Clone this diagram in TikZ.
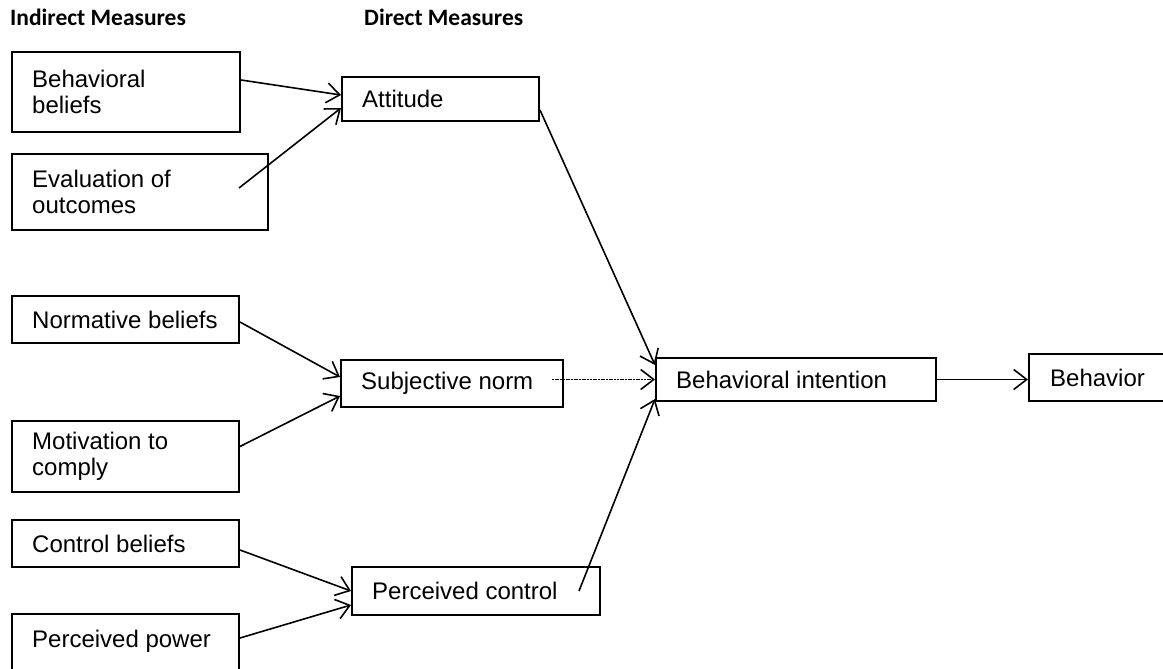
\documentclass[tikz,border=0pt]{standalone}
\usepackage{fontspec}
\setmainfont{Liberation Sans}
\newfontfamily\titlefont{Carlito}
\usetikzlibrary{arrows.meta,calc}
\begin{document}
\begin{tikzpicture}[x=1pt,y=-1pt,
  box/.style={draw, line width=2pt, rectangle, inner sep=0pt},
  lbl/.style={anchor=west, align=left, inner sep=0pt, font=\fontsize{24}{26}\selectfont},
  ttl/.style={anchor=base west, inner sep=0pt, font=\titlefont\bfseries\fontsize{23.5}{26}\selectfont},
  conn/.style={line width=1.6pt, -{Straight Barb[length=13pt,width=20pt]}}]
\fill[white] (0,0) rectangle (1163,669);
\useasboundingbox (0,0) rectangle (1163,669);

% titles
\node[ttl] (t1) at (10,26) {Indirect Measures};
\node[ttl] (t2) at (364,26) {Direct Measures};

% indirect measures
\node[box, minimum width=228pt, minimum height=80pt] (bb) at (126,92) {};
\node[lbl] (bbt) at ([xshift=21pt]bb.west) {Behavioral\\beliefs};
\node[box, minimum width=256pt, minimum height=76pt] (eo) at (140,192) {};
\node[lbl] (eot) at ([xshift=21pt]eo.west) {Evaluation of\\outcomes};
\node[box, minimum width=227pt, minimum height=47pt] (nb) at (125.5,319.5) {};
\node[lbl] (nbt) at ([xshift=21pt]nb.west) {Normative beliefs};
\node[box, minimum width=227pt, minimum height=71pt] (mc) at (125.5,456.5) {};
\node[lbl] (mct) at ([xshift=21pt]mc.west) {Motivation to\\comply};
\node[box, minimum width=227pt, minimum height=47pt] (cb) at (125.5,543.5) {};
\node[lbl] (cbt) at ([xshift=21pt]cb.west) {Control beliefs};
\node[box, minimum width=227pt, minimum height=66pt] (pp) at (125.5,647) {};
\node[lbl] (ppt) at ([xshift=21pt,yshift=6pt]pp.west) {Perceived power};

% direct measures
\node[box, minimum width=197pt, minimum height=44pt] (att) at (440.5,99) {};
\node[lbl] (attt) at ([xshift=21pt]att.west) {Attitude};
\node[box, minimum width=222pt, minimum height=47pt] (sn) at (452,383.5) {};
\node[lbl] (snt) at ([xshift=21pt]sn.west) {Subjective norm};
\node[box, minimum width=248pt, minimum height=48pt] (pc) at (476,591) {};
\node[lbl] (pct) at ([xshift=21pt]pc.west) {Perceived control};

% intention and behavior
\node[box, minimum width=280pt, minimum height=43pt] (bi) at (796,379.5) {};
\node[lbl] (bit) at ([xshift=21pt]bi.west) {Behavioral intention};
\node[box, minimum width=150pt, minimum height=47pt] (beh) at (1104,377.5) {};
\node[lbl] (beht) at ([xshift=22pt]beh.west) {Behavior};

% connectors
\draw[conn] ([yshift=12pt]bb.east) -- ([yshift=4pt]att.west);
\coordinate (eos) at ([xshift=-30pt,yshift=4pt]eo.east);
\draw[conn] (eos) -- ([yshift=-9pt]att.west);
\draw[conn] ([yshift=-11pt]att.east) -- ([yshift=-8pt]bi.north west);

\draw[conn] ([yshift=-2.5pt]nb.east) -- ([yshift=6.5pt]sn.west);
\draw[conn] ([yshift=10pt]mc.east) -- ([yshift=-12.5pt]sn.west);
\coordinate (sns) at ([xshift=-12pt]sn.east |- bi.west);
\draw[conn, dash pattern=on 2pt off 0.7pt] (sns) -- (bi.west);

\draw[conn] ([yshift=-6.5pt]cb.east) -- (pc.west);
\coordinate (pps) at ($(pp.east |- ppt.west)+(0,-3)$);
\draw[conn] (pps) -- ([yshift=-14pt]pc.west);
\coordinate (pcs) at ([xshift=-22pt]pc.east);
\draw[conn] (pcs) -- ([yshift=3pt]bi.south west);

\draw[conn] (bi.east) -- (bi.east -| beh.west);
\end{tikzpicture}
\end{document}
